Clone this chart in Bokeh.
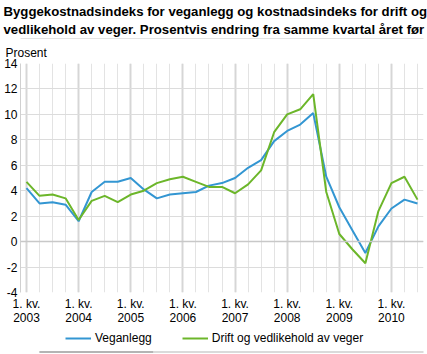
from bokeh.plotting import figure
from bokeh.embed import file_html
from bokeh.resources import INLINE
from bokeh.layouts import column
from bokeh.models import (Range1d, FixedTicker, Legend, LegendItem, Title,
                          Span, ColumnDataSource)

# ---- data -------------------------------------------------------------
years = list(range(2003, 2011))
quarter_index = list(range(31))  # 2003 Q1 ... 2010 Q3
veganlegg = [4.2, 3.0, 3.1, 2.9, 1.6, 3.9, 4.7, 4.7, 5.0, 4.1, 3.4, 3.7, 3.8,
             3.9, 4.4, 4.6, 5.0, 5.8, 6.4, 7.9, 8.7, 9.2, 10.1, 5.1, 2.7, 0.9,
             -0.9, 1.2, 2.6, 3.3, 3.0]
drift = [4.7, 3.6, 3.7, 3.4, 1.7, 3.2, 3.6, 3.1, 3.7, 4.0, 4.6, 4.9, 5.1,
         4.7, 4.3, 4.3, 3.8, 4.5, 5.6, 8.6, 10.0, 10.4, 11.6, 3.9, 0.6, -0.6,
         -1.7, 2.4, 4.6, 5.1, 3.3]
tick_labels = [f"1. kv.\n{y}" for y in years]
y_ticks = list(range(-4, 15, 2))
y_tick_labels = [str(v) for v in y_ticks]
title_lines = ["Byggekostnadsindeks for veganlegg og kostnadsindeks for drift og",
               "vedlikehold av veger. Prosentvis endring fra samme kvartal året før"]
unit_label = "Prosent"
series_names = ["Veganlegg", "Drift og vedlikehold av veger"]

BLUE = "#3396d2"
GREEN = "#6cb62a"
FONT = "Liberation Sans"
W = 427
LEFT, RIGHT = 20, 4
H_HEAD, H_MAIN, H_FOOT = 39, 290, 25

# ---- header: two-line title above a 2px grey rule (the frame) ---------
head = figure(width=W, height=H_HEAD, output_backend="svg", toolbar_location=None,
              title=None, x_axis_type=None, y_axis_type=None,
              x_range=Range1d(0, 1), y_range=Range1d(0, 1),
              min_border_left=LEFT, min_border_right=RIGHT,
              min_border_top=H_HEAD - 2, min_border_bottom=0)
head.outline_line_color = None
head.grid.visible = False
head.background_fill_color = "#c8c8c8"
head.border_fill_color = "white"
head.add_layout(Title(text="\n".join(title_lines), align="left", offset=3 - LEFT,
                      standoff=3.5, text_font=FONT, text_font_size="13.2px",
                      text_line_height=1.18,
                      text_font_style="bold", text_color="#000000"), "above")

# ---- main chart ----------------------------------------------------------
src = ColumnDataSource(dict(x=quarter_index, v=veganlegg, d=drift))

p = figure(width=W, height=H_MAIN, output_backend="svg", toolbar_location=None,
           title=None, x_range=Range1d(-0.46, 30.46), y_range=Range1d(-4, 14),
           min_border_left=LEFT, min_border_right=RIGHT,
           min_border_top=24, min_border_bottom=37)
p.outline_line_color = None
p.add_layout(Title(text=unit_label, align="left", offset=5 - LEFT, standoff=7,
                   text_font=FONT, text_font_size="12px",
                   text_font_style="normal", text_color="#000000"), "above")

major_x = [i * 4 for i in range(len(years))]
p.xaxis.ticker = FixedTicker(ticks=major_x, minor_ticks=quarter_index)
p.xaxis.major_label_overrides = {t: lab for t, lab in zip(major_x, tick_labels)}
p.xaxis.axis_line_color = None
p.xaxis.major_tick_line_color = None
p.xaxis.minor_tick_line_color = None
p.xaxis.major_tick_out = 0
p.xaxis.major_tick_in = 0
p.xaxis.minor_tick_out = 0
p.xaxis.minor_tick_in = 0
p.xaxis.major_label_standoff = 4
p.xaxis.major_label_text_font = FONT
p.xaxis.major_label_text_font_size = "12px"
p.xaxis.major_label_text_line_height = 1.0
p.xaxis.major_label_text_color = "#000000"

p.yaxis.ticker = FixedTicker(ticks=y_ticks)
p.yaxis.major_label_overrides = {t: lab for t, lab in zip(y_ticks, y_tick_labels)}
p.yaxis.axis_line_color = "#d0d0d0"
p.yaxis.major_tick_line_color = None
p.yaxis.minor_tick_line_color = None
p.yaxis.major_tick_out = 0
p.yaxis.major_tick_in = 0
p.yaxis.minor_tick_out = 0
p.yaxis.minor_tick_in = 0
p.yaxis.major_label_standoff = 3
p.yaxis.major_label_text_font = FONT
p.yaxis.major_label_text_font_size = "12px"
p.yaxis.major_label_text_color = "#000000"

p.xgrid.grid_line_color = "#d6d6d6"
p.xgrid.grid_line_width = 2
p.xgrid.minor_grid_line_color = "#e3e3e3"
p.xgrid.minor_grid_line_width = 1
p.ygrid.grid_line_color = "#dcdcdc"
p.ygrid.grid_line_width = 1
p.add_layout(Span(location=0, dimension="width", line_color="#c8c8c8",
                  line_width=1.5))

p.line("x", "v", source=src, line_color=BLUE, line_width=2)
p.line("x", "d", source=src, line_color=GREEN, line_width=2)

# ---- footer (legend, rule) ----------------------------------------------
foot = figure(width=W, height=H_FOOT, output_backend="svg", toolbar_location=None,
              title=None, x_axis_type=None, y_axis_type=None,
              x_range=Range1d(-LEFT, W - LEFT), y_range=Range1d(H_FOOT, 0),
              min_border_left=LEFT, min_border_right=RIGHT,
              min_border_top=0, min_border_bottom=0)
foot.outline_line_color = None
foot.grid.visible = False
l1 = foot.line(x=[-100, -90], y=[-5, -5], line_color=BLUE, line_width=2)
l2 = foot.line(x=[-100, -90], y=[-5, -5], line_color=GREEN, line_width=2)
legend = Legend(items=[LegendItem(label=series_names[0], renderers=[l1]),
                       LegendItem(label=series_names[1], renderers=[l2])],
                orientation="horizontal", location=(65 - LEFT, 9),
                glyph_width=26, glyph_height=14, label_standoff=4,
                spacing=30, padding=0, margin=0,
                border_line_color=None, background_fill_alpha=0,
                label_text_font=FONT, label_text_font_size="12px",
                label_text_color="#000000")
foot.add_layout(legend, "center")
foot.line(x=[0, 121], y=[22.5, 22.5], line_color="#b4b4b4", line_width=2)
foot.line(x=[121, W], y=[22.5, 22.5], line_color="#dadada", line_width=2)

layout = column(head, p, foot, spacing=0)
open("out.html", "w").write(file_html(layout, INLINE))
